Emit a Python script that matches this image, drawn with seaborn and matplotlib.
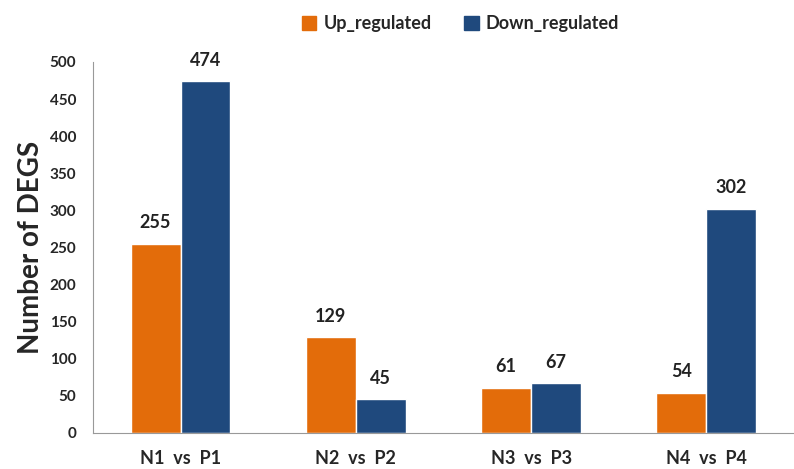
import pandas as pd
import seaborn as sns
import matplotlib.pyplot as plt
from matplotlib.patches import Patch

comparisons = ['N1  vs  P1', 'N2  vs  P2', 'N3  vs  P3', 'N4  vs  P4']
up_regulated = [255, 129, 61, 54]
down_regulated = [474, 45, 67, 302]
series = ['Up_regulated', 'Down_regulated']
colors = ['#E36C0A', '#1F497D']

df = pd.DataFrame({
    'comparison': comparisons * 2,
    'count': up_regulated + down_regulated,
    'series': [series[0]] * 4 + [series[1]] * 4,
})

sns.set_style('white')
plt.rcParams['font.family'] = ['Lato', 'DejaVu Sans']
plt.rcParams['font.weight'] = 'bold'

fig = plt.figure(figsize=(7.94, 4.69), dpi=100)
ax = fig.add_axes([0.117, 0.077, 0.883, 0.791])
sns.barplot(data=df, x='comparison', y='count', hue='series', palette=colors,
            width=0.57, ax=ax, legend=False, saturation=1)

for c in ax.containers:
    ax.bar_label(c, padding=9, fontsize=13, fontweight='bold', color='#222222')

ax.set_xlim(-0.5, 3.5)
ax.set_ylim(0, 500)
ax.set_yticks(range(0, 501, 50))
ax.set_xlabel('')
ax.set_ylabel('Number of DEGS', fontsize=20, fontweight='bold', labelpad=4)
ax.tick_params(axis='y', length=6, color='#999999', labelsize=11, pad=6)
ax.tick_params(axis='x', length=0, labelsize=13, pad=12)
ax.set_xticks([-0.5, 0.5, 1.5, 2.5, 3.5], minor=True)
ax.tick_params(axis='x', which='minor', length=10, color='#999999', direction='out')
for s in ['top', 'right']:
    ax.spines[s].set_visible(False)
for s in ['left', 'bottom']:
    ax.spines[s].set_color('#999999')

handles = [Patch(color=col, label=lab) for col, lab in zip(colors, series)]
fig.legend(handles=handles, loc='center', bbox_to_anchor=(0.58, 0.95), ncol=2,
           frameon=False, fontsize=13, handlelength=0.8, handleheight=0.8,
           columnspacing=1.8, handletextpad=0.4)

fig.savefig('out.png', dpi=100)
